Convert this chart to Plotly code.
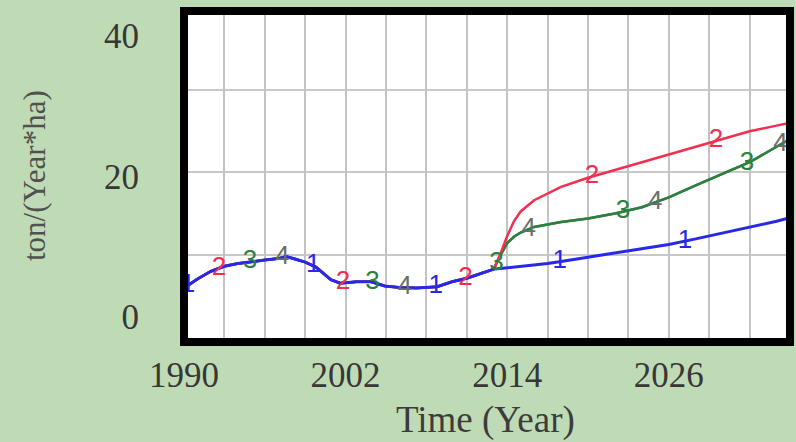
import numpy as np
import plotly.graph_objects as go

# ---- data ----
hist_years = [1990, 1991, 1992, 1993, 1994, 1995, 1996, 1997, 1997.6, 1998.3, 1999.0,
              1999.8, 2000.9, 2001.6, 2002.8, 2003.9, 2004.9, 2006.0, 2007.3, 2008.8,
              2009.9, 2011.0, 2011.8, 2013.0]
hist_vals = [4.1, 5.4, 6.5, 7.2, 7.6, 7.9, 8.1, 8.3, 8.6, 8.2, 7.8,
             7.1, 5.3, 4.8, 5.0, 5.0, 4.4, 4.2, 4.1, 4.3,
             5.0, 5.5, 6.0, 6.8]

fut_years = [2013, 2013.5, 2014, 2014.5, 2015, 2016, 2017, 2018, 2020, 2022, 2024,
             2026, 2028, 2030, 2032, 2034, 2035]
s1_fut = [6.8, 6.9, 7.0, 7.0, 7.1, 7.3, 7.6, 7.9, 8.5, 9.0, 9.6,
          10.3, 11.1, 11.9, 12.7, 13.6, 14.1]
s2_fut = [6.8, 9.0, 11.5, 13.6, 15.0, 16.6, 17.6, 18.5, 19.8, 20.9, 22.1,
          23.2, 24.3, 25.3, 26.4, 27.2, 27.6]
s3_fut = [6.8, 8.8, 10.5, 11.4, 12.0, 12.8, 13.2, 13.5, 14.0, 14.7, 15.6,
          17.0, 18.7, 20.3, 22.0, 24.2, 25.3]
s4_fut = [6.8, 8.8, 10.5, 11.4, 12.0, 12.8, 13.2, 13.5, 14.0, 14.7, 15.6,
          17.0, 18.7, 20.3, 22.0, 24.2, 25.3]

series_names = ["1", "2", "3", "4"]
label_years = {
    "1": [1990.3, 1999.6, 2008.7, 2017.9, 2027.2],
    "2": [1992.6, 2001.8, 2010.9, 2020.3, 2029.5],
    "3": [1994.9, 2004.0, 2013.2, 2022.6, 2031.8],
    "4": [1997.3, 2006.4, 2015.6, 2025.0, 2034.3],
}
x_ticks = [1990, 2002, 2014, 2026]
y_ticks = [0, 20, 40]

# ---- styling ----
BG = "rgb(191,219,181)"
colors = {"1": "rgb(40,40,235)", "2": "rgb(245,45,80)",
          "3": "rgb(40,130,60)", "4": "rgb(105,110,105)"}
widths = {"1": 3, "2": 2.5, "3": 2.5, "4": 2.5}
futs = {"1": s1_fut, "2": s2_fut, "3": s3_fut, "4": s4_fut}

fig = go.Figure()
draw_order = ["4", "3", "2", "1"]
full = {}
for s in series_names:
    xs = hist_years + fut_years[1:]
    ys = hist_vals + futs[s][1:]
    full[s] = (xs, ys)

for s in draw_order:
    xs, ys = full[s]
    fig.add_trace(go.Scatter(x=xs, y=ys, mode="lines",
                             line=dict(color=colors[s], width=widths[s]),
                             showlegend=False, hoverinfo="skip"))

for s in draw_order:
    xs, ys = full[s]
    lx = label_years[s]
    ly = list(np.interp(lx, xs, ys))
    fig.add_trace(go.Scatter(x=lx, y=ly, mode="text", text=[s] * len(lx),
                             textposition="middle center",
                             textfont=dict(family="Liberation Sans", size=26, color=colors[s]),
                             showlegend=False, hoverinfo="skip"))

L, R, T, B = 184, 6, 11, 100
W, H = 796, 442
ph = H - T - B

grid_fracs = [(342 - 255) / ph, (342 - 172) / ph, (342 - 90) / ph]
shapes = []
for f in grid_fracs:
    shapes.append(dict(type="line", xref="x domain", yref="y domain", x0=0, x1=1, y0=f, y1=f,
                       line=dict(color="rgb(200,200,200)", width=2), layer="below"))
shapes.append(dict(type="rect", xref="x domain", yref="y domain", x0=0, x1=1, y0=0, y1=1,
                   line=dict(color="black", width=8), layer="above"))

fig.update_layout(
    width=W, height=H,
    margin=dict(l=L, r=R, t=T, b=B),
    paper_bgcolor=BG, plot_bgcolor="white",
    shapes=shapes,
    xaxis=dict(range=[1990, 2035], tickvals=x_ticks, ticktext=[str(v) for v in x_ticks],
               showgrid=True, gridcolor="rgb(195,195,195)", gridwidth=2,
               minor=dict(dtick=3, tick0=1990, showgrid=True, gridcolor="rgb(195,195,195)",
                          gridwidth=2, ticks=""),
               ticks="", ticklabelstandoff=9, zeroline=False, showline=False,
               tickfont=dict(family="Liberation Serif", size=35, color="rgb(55,55,55)")),
    yaxis=dict(range=[-3.56, 43.5], tickvals=y_ticks, ticktext=[str(v) for v in y_ticks],
               showgrid=False, ticks="", ticklabelstandoff=44, zeroline=False, showline=False,
               tickfont=dict(family="Liberation Serif", size=35, color="rgb(55,55,55)")),
    annotations=[
        dict(text="Time (Year)", xref="paper", yref="paper",
             x=(485 - L) / (W - L - R), y=(342 - 420) / ph, xanchor="center", yanchor="middle",
             showarrow=False, font=dict(family="Liberation Serif", size=37, color="rgb(60,60,60)")),
        dict(text="ton/(Year*ha)", xref="paper", yref="paper", textangle=-90,
             x=(34 - L) / (W - L - R), y=(342 - 176) / ph, xanchor="center", yanchor="middle",
             showarrow=False, font=dict(family="Liberation Serif", size=31, color="rgb(80,80,80)")),
    ],
)

fig.write_html("out.html", config={"displayModeBar": False},
               post_script="document.body.style.margin='0';document.body.style.overflow='hidden';")
